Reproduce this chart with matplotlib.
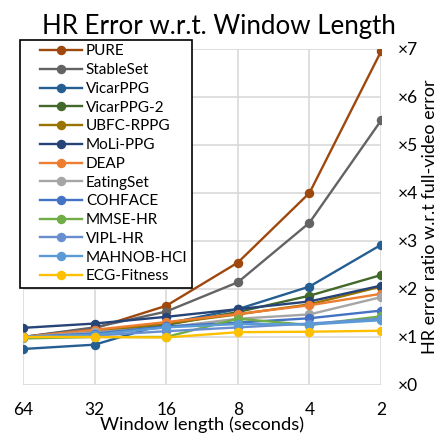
import matplotlib
matplotlib.use("Agg")
import matplotlib.pyplot as plt
from matplotlib.lines import Line2D
from matplotlib.legend_handler import HandlerLine2D

plt.rcParams["font.family"] = ["Lato", "DejaVu Sans"]

# Window lengths (seconds) and error ratios per dataset
windows = ["64", "32", "16", "8", "4", "2"]
datasets = ["PURE", "StableSet", "VicarPPG", "VicarPPG-2", "UBFC-RPPG", "MoLi-PPG",
            "DEAP", "EatingSet", "COHFACE", "MMSE-HR", "VIPL-HR", "MAHNOB-HCI", "ECG-Fitness"]

pure = [1.00, 1.18, 1.65, 2.55, 4.00, 6.95]
stableset = [1.00, 1.20, 1.53, 2.14, 3.38, 5.51]
vicarppg = [0.75, 0.84, 1.28, 1.58, 2.05, 2.92]
vicarppg2 = [1.00, 1.10, 1.25, 1.52, 1.86, 2.29]
ubfc = [1.00, 1.12, 1.28, 1.47, 1.68, 2.05]
moli = [1.19, 1.28, 1.42, 1.58, 1.74, 2.07]
deap = [1.00, 1.15, 1.31, 1.48, 1.66, 1.90]
eatingset = [1.00, 1.10, 1.20, 1.38, 1.47, 1.83]
cohface = [1.00, 1.07, 1.22, 1.30, 1.39, 1.55]
mmse = [0.97, 1.00, 1.00, 1.38, 1.25, 1.43]
vipl = [1.00, 1.03, 1.12, 1.20, 1.28, 1.38]
mahnob = [1.00, 1.05, 1.20, 1.27, 1.26, 1.35]
ecg = [1.00, 1.00, 0.99, 1.10, 1.11, 1.13]

series = [pure, stableset, vicarppg, vicarppg2, ubfc, moli, deap,
          eatingset, cohface, mmse, vipl, mahnob, ecg]
colors = ["#9E480E", "#636363", "#255E91", "#43682B", "#997300", "#264478", "#ED7D31",
          "#A5A5A5", "#4472C4", "#70AD47", "#698ED0", "#5B9BD5", "#FFC000"]

fig = plt.figure(figsize=(4.38, 4.37), dpi=100)
ax = fig.add_axes([0.0525, 0.119, 0.8175, 0.769])

x = list(range(len(windows)))
for name, vals, c in zip(datasets, series, colors):
    ax.plot(x, vals, color=c, lw=1.7, marker="o", ms=5.8, label=name)

ax.set_xlim(0, 5)
ax.set_ylim(0, 7)
ax.set_xticks(x)
ax.set_xticklabels(windows, fontsize=12.5)
ax.set_yticks(range(8))
ax.set_yticklabels(["×%d" % i for i in range(8)], fontsize=12.5)
ax.yaxis.tick_right()
ax.yaxis.set_label_position("right")
ax.tick_params(axis="x", length=0, pad=12)
ax.tick_params(axis="y", length=0, pad=12)
ax.grid(True, color="#D9D9D9", lw=1.2)
ax.set_axisbelow(True)
for s in ax.spines.values():
    s.set_visible(False)

ax.set_xlabel("Window length (seconds)", fontsize=13.2, labelpad=-1)
ax.set_ylabel("HR error ratio w.r.t full-video error", fontsize=13, labelpad=3)

fig.suptitle("HR Error w.r.t. Window Length", fontsize=18.6, y=0.967)

leg = ax.legend(loc="upper left", bbox_to_anchor=(-0.008, 1.027), fontsize=11,
                frameon=True, fancybox=False, edgecolor="black", framealpha=1,
                handlelength=3.75, labelspacing=0.31, borderpad=0.3, handletextpad=0.25,
                borderaxespad=0,
                handler_map={Line2D: HandlerLine2D(xpad=1.0)})
leg.get_frame().set_linewidth(1.2)

fig.savefig("out.png", dpi=100)
